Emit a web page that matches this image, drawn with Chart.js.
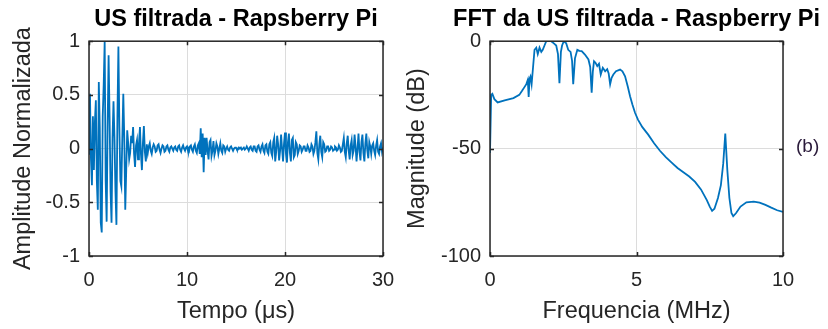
<!DOCTYPE html>
<html>
<head>
<meta charset="utf-8">
<script src="https://cdn.jsdelivr.net/npm/chart.js@4/dist/chart.umd.min.js"></script>
<style>
    body { margin: 0; background: #fff; overflow: hidden; width: 828px; height: 329px; position: relative; }
    canvas { position: absolute; top: 0; }
    #sinal { left: 0; }
    #espectro { left: 400px; }
    #letra { position: absolute; left: 796px; top: 135px; font: 19px "Liberation Sans", Arial, sans-serif; color: #2a1a3a; }
</style>
</head>
<body>
<canvas id="sinal" width="472" height="329"></canvas>
<canvas id="espectro" width="473" height="329"></canvas>
<div id="letra">(b)</div>
<script>
// Sinal de US filtrado, amostrado a cada 0.1 us (0 a 30 us)
const passoUs = 0.1
const amplitude = [
    -0.05, 0.51, -0.1, -0.34, 0.3, -0.2, 0.25, 0.45, -0.3, -0.57,
    0.62, 0.2, -0.69, -0.78, 0.3, 0.6, 1.0, -0.3, -0.68, 0.2,
    0.87, 0.3, -0.4, -0.69, 0.1, 0.44, 0.1, -0.4, -0.71, 0.3,
    0.95, 0.2, -0.3, -0.35, 0.1, 0.51, 0.1, -0.57, -0.2, 0.17,
    0.05, -0.1, -0.04, 0.12, 0.05, 0.2, -0.05, -0.17, 0.03, 0.08,
    -0.1, 0.05, 0.2, -0.05, -0.2, 0.05, 0.21, -0.03, -0.12, 0.04,
    -0.04, 0.02, 0.05, -0.02, -0.05, 0.01, 0.04, 0.02, -0.03, -0.02,
    0.03, 0.04, -0.01, -0.04, 0.0, 0.03, 0.02, -0.03, -0.02, 0.02,
    0.03, -0.01, -0.03, 0.01, 0.02, 0.0, -0.02, 0.01, 0.02, -0.01,
    -0.02, 0.02, 0.03, -0.01, -0.03, 0.01, 0.03, 0.0, -0.02, 0.01,
    0.02, -0.02, -0.03, 0.02, 0.03, -0.01, -0.03, 0.02, 0.04, -0.02,
    -0.04, 0.03, 0.05, -0.05, 0.19, -0.08, 0.14, -0.22, 0.1, -0.06,
    0.1, -0.02, -0.1, 0.06, 0.08, -0.07, -0.02, 0.07, -0.06, -0.02,
    0.05, 0.02, -0.05, 0.0, 0.05, -0.02, -0.04, 0.03, 0.02, -0.03,
    0.0, 0.02, -0.01, -0.02, 0.01, 0.02, 0.0, -0.02, 0.0, 0.01,
    0.01, -0.01, -0.01, 0.01, 0.0, 0.01, -0.01, 0.0, 0.01, -0.01,
    0.0, 0.02, 0.0, -0.02, 0.01, 0.02, -0.01, -0.02, 0.02, 0.02,
    -0.02, -0.03, 0.02, 0.03, -0.01, -0.03, 0.02, 0.04, -0.02, -0.04,
    0.03, 0.04, -0.03, -0.05, 0.04, 0.06, -0.04, -0.07, 0.06, 0.1,
    -0.12, -0.03, 0.12, 0.04, -0.11, -0.02, 0.13, 0.0, -0.12, 0.05,
    0.15, -0.05, -0.13, 0.06, 0.14, -0.04, -0.12, 0.08, 0.1, -0.08,
    -0.06, 0.06, 0.04, -0.05, -0.02, 0.03, 0.02, -0.03, -0.01, 0.02,
    0.02, -0.02, -0.02, 0.03, 0.01, -0.03, -0.02, 0.04, 0.02, -0.05,
    -0.02, 0.06, 0.16, -0.04, -0.1, 0.04, 0.12, -0.03, -0.08, 0.06,
    0.04, -0.03, -0.02, 0.02, 0.02, -0.02, -0.01, 0.02, 0.01, -0.02,
    -0.01, 0.02, 0.01, -0.02, -0.01, 0.03, 0.01, -0.03, -0.02, 0.04,
    0.1, -0.03, -0.08, 0.05, 0.12, -0.02, -0.1, 0.03, 0.08, -0.06,
    -0.02, 0.13, 0.02, -0.12, 0.0, 0.14, -0.03, -0.11, 0.06, 0.13,
    -0.04, -0.12, 0.05, 0.14, -0.02, -0.09, 0.06, 0.02, -0.05, 0.03,
    0.05, -0.02, -0.06, 0.03, 0.08, -0.03, -0.05, 0.02, 0.05, -0.03,
    0.01
]

// FFT do sinal
const frequenciaMHz = [
    0, 0.04, 0.08, 0.15, 0.26, 0.5, 0.8, 1.0, 1.1, 1.17,
    1.24, 1.29, 1.32, 1.35, 1.38, 1.42, 1.47, 1.52, 1.58, 1.63,
    1.69, 1.75, 1.8, 1.86, 1.92, 2.0, 2.09, 2.18, 2.26, 2.32,
    2.37, 2.42, 2.46, 2.52, 2.6, 2.67, 2.75, 2.8, 2.84, 2.9,
    2.98, 3.05, 3.13, 3.24, 3.36, 3.42, 3.47, 3.51, 3.55, 3.6,
    3.66, 3.72, 3.78, 3.85, 3.93, 4.0, 4.05, 4.1, 4.15, 4.21,
    4.3, 4.44, 4.52, 4.61, 4.7, 4.78, 4.86, 4.95, 5.05, 5.2,
    5.4, 5.6, 5.8, 6.0, 6.2, 6.4, 6.6, 6.8, 7.0, 7.2,
    7.4, 7.5, 7.58, 7.66, 7.78, 7.88, 7.96, 8.03, 8.1, 8.17,
    8.24, 8.3, 8.4, 8.55, 8.75, 9.0, 9.2, 9.4, 9.6, 9.8,
    10
]
const magnitudeDb = [
    -52, -25, -24.5, -27, -28.5, -27.5, -26.5, -25, -23, -21.5,
    -20, -18, -26, -17.5, -16.5, -20, -12, -4, -3, -6,
    -3, -5, -4, -2, 0, 0, 0, -1, -2, -6,
    -19.5, -5, -2, 0, -1, -4, -5, -9, -20, -8,
    -4, -4.5, -4.6, -6.2, -8.5, -12, -24, -14, -9.3, -10,
    -11.6, -10.5, -15.5, -12.4, -14, -13, -15, -20, -17, -15.5,
    -14, -13.2, -14, -16.3, -21, -25.6, -29.5, -33.3, -36.5, -40,
    -43.5, -47.5, -51, -54, -56.5, -59, -61, -63, -65.5, -69,
    -74, -77, -79, -78, -73, -67, -57, -43, -60, -73,
    -80, -81.5, -80, -77, -75, -74.7, -75.2, -76.2, -77.5, -78.7,
    -79.5
]

const azul = '#0072bd'
const corEixo = '#262626'
const fonte = '"Liberation Sans", Arial, sans-serif'

// Caixa e marcas de escala para dentro, como no MATLAB
const caixaPlugin = {
    id: 'caixa',
    afterDraw(chart) {
        const {ctx, chartArea: a, scales} = chart
        ctx.save()
        ctx.strokeStyle = corEixo
        ctx.lineWidth = 1.5
        ctx.beginPath()
        scales.x.ticks.forEach(t => {
            const px = Math.round(scales.x.getPixelForValue(t.value)) + 0.5
            ctx.moveTo(px, a.bottom); ctx.lineTo(px, a.bottom - 4)
            ctx.moveTo(px, a.top); ctx.lineTo(px, a.top + 4)
        })
        scales.y.ticks.forEach(t => {
            const py = Math.round(scales.y.getPixelForValue(t.value)) + 0.5
            ctx.moveTo(a.left, py); ctx.lineTo(a.left + 4, py)
            ctx.moveTo(a.right, py); ctx.lineTo(a.right - 4, py)
        })
        ctx.stroke()
        ctx.strokeRect(a.left, a.top, a.right - a.left, a.bottom - a.top)
        ctx.restore()
    }
}

function montaGrafico(id, pontos, titulo, tituloX, tituloY, xMax, xPasso, yMin, yMax, yPasso, larguraY, larguraDireita, padTituloY) {
    return new Chart(document.getElementById(id), {
        type: 'line',
        data: {
            datasets: [{
                data: pontos,
                borderColor: azul,
                borderWidth: 1.8,
                pointRadius: 0,
                tension: 0
            }]
        },
        options: {
            responsive: false,
            animation: false,
            layout: { padding: 0 },
            plugins: {
                legend: { display: false },
                tooltip: { enabled: false },
                title: {
                    display: true,
                    text: titulo,
                    color: '#000',
                    font: { family: fonte, size: 23.5, weight: 'bold', lineHeight: 1.2 },
                    padding: { top: 5, bottom: 8 }
                }
            },
            scales: {
                x: {
                    type: 'linear',
                    min: 0,
                    max: xMax,
                    afterFit: s => { s.height = 73 },
                    border: { display: false },
                    grid: { color: '#dcdcdc', drawTicks: false },
                    ticks: { stepSize: xPasso, color: corEixo, padding: 12, maxRotation: 0, font: { family: fonte, size: 20 } },
                    title: { display: true, text: tituloX, color: corEixo, padding: { top: 0, bottom: 3 }, font: { family: fonte, size: 23.5, lineHeight: 1.2 } }
                },
                y: {
                    min: yMin,
                    max: yMax,
                    afterFit: s => { s.width = larguraY },
                    border: { display: false },
                    grid: { color: '#dcdcdc', drawTicks: false },
                    ticks: { stepSize: yPasso, color: corEixo, padding: 9, font: { family: fonte, size: 20 }, callback: v => String(v) },
                    title: { display: true, text: tituloY, color: corEixo, padding: { top: padTituloY, bottom: 0 }, font: { family: fonte, size: 23.5, lineHeight: 1.2 } }
                },
                // eixo vazio so para reservar a margem da direita (titulo fica centrado no grafico)
                margem: {
                    position: 'right',
                    min: 0,
                    max: 1,
                    afterFit: s => { s.width = larguraDireita },
                    border: { display: false },
                    grid: { display: false, drawTicks: false },
                    ticks: { display: false }
                }
            }
        },
        plugins: [caixaPlugin]
    })
}

const pontosSinal = amplitude.map((v, i) => ({ x: +(i * passoUs).toFixed(1), y: v }))
const pontosFft = frequenciaMHz.map((f, i) => ({ x: f, y: magnitudeDb[i] }))

montaGrafico('sinal', pontosSinal, 'US filtrada - Rapsberry Pi', 'Tempo (\u03bcs)', 'Amplitude Normalizada',
    30, 10, -1, 1, 0.5, 89, 89, 9)
montaGrafico('espectro', pontosFft, 'FFT da US filtrada - Raspberry Pi', 'Frequencia (MHz)', 'Magnitude (dB)',
    10, 5, -100, 0, 50, 90, 90, 3)
</script>
</body>
</html>
